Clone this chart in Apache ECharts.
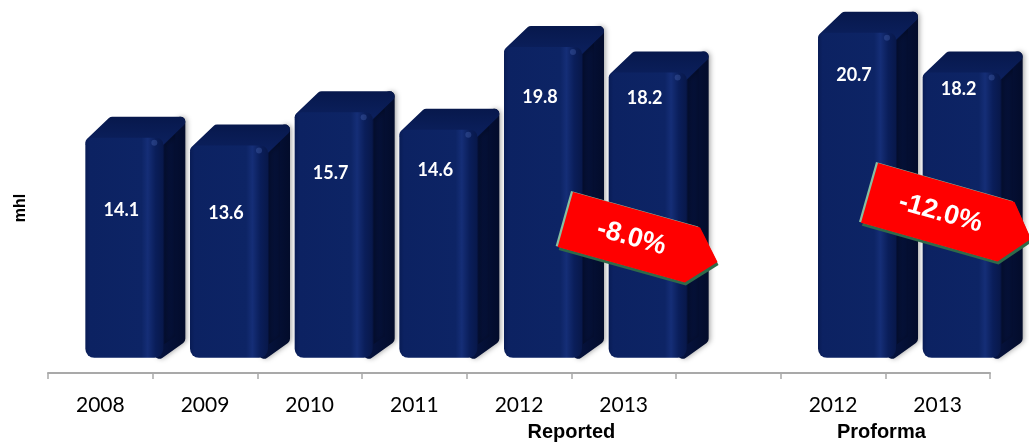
<!DOCTYPE html>
<html>
<head>
<meta charset="utf-8">
<title>Volume (mhl)</title>
<script src="https://cdn.jsdelivr.net/npm/echarts@6/dist/echarts.min.js"></script>
<style>
  html, body { margin: 0; padding: 0; background: #ffffff; }
  #chart { width: 1029px; height: 442px; }
</style>
</head>
<body>
<div id="chart"></div>
<script>
// Annual volumes in mhl: reported series 2008-2013, then proforma 2012-2013
const categories = ['2008', '2009', '2010', '2011', '2012', '2013', '', '2012', '2013'];
const volumes = [14.1, 13.6, 15.7, 14.6, 19.8, 18.2, null, 20.7, 18.2];
const groupLabels = ['Reported', 'Proforma'];
const changeLabels = ['-8.0%', '-12.0%'];
const axisTitle = 'mhl';

// vertical placement of each value label, measured down from the bar top (px)
const labelDrop = [73, 68, 61, 41, 50, 26, 0, 43, 17];

const GRID = { left: 48, right: 39, top: 12, bottom: 69 };
const W = 1029, H = 442;
const slot = (W - GRID.left - GRID.right) / categories.length;

const barData = [];
volumes.forEach((v, i) => { if (v != null) barData.push([i, v]); });

const FRONT = new echarts.graphic.LinearGradient(0, 0, 1, 0, [
  { offset: 0, color: '#091c55' },
  { offset: 0.06, color: '#0c2262' },
  { offset: 0.72, color: '#0d2465' },
  { offset: 0.8, color: '#152e77' },
  { offset: 0.9, color: '#0a1e5a' },
  { offset: 1, color: '#08184a' }
]);
const SIDE = new echarts.graphic.LinearGradient(0, 0, 1, 0, [
  { offset: 0, color: '#061442' },
  { offset: 1, color: '#030c2b' }
]);
const TOP = new echarts.graphic.LinearGradient(0, 0, 0, 1, [
  { offset: 0, color: '#07184c' },
  { offset: 1, color: '#0c2160' }
]);

function renderBar(params, api) {
  const i = api.value(0);
  const v = api.value(1);
  const top = api.coord([i, v]);
  const base = api.coord([i, 0]);
  const w = 78, dx = 22, dy = 21, r = 5;
  const x0 = top[0] - 15, x1 = x0 + w;
  const yT = top[1], yB = base[1] - 4;

  // right side face, rounded via a thick round-joined stroke
  const side = {
    type: 'polygon',
    shape: { points: [
      [x1 - 4, yT + r], [x1 + dx - r, yT - dy + r], [x1 + dx - r, yB - dy + 2], [x1 - 4, yB - r + 1]
    ] },
    style: { fill: SIDE, stroke: SIDE, lineWidth: 2 * r, lineJoin: 'round',
             shadowBlur: 5, shadowColor: 'rgba(0,0,0,0.3)', shadowOffsetX: 2 }
  };
  const topFace = {
    type: 'polygon',
    shape: { points: [
      [x0 + r, yT + r], [x0 + dx + r, yT - dy + r], [x1 + dx - r, yT - dy + r], [x1 - r, yT + r]
    ] },
    style: { fill: TOP, stroke: TOP, lineWidth: 2 * r, lineJoin: 'round' }
  };
  const front = {
    type: 'rect',
    shape: { x: x0, y: yT, width: w, height: yB - yT, r: [7, 7, 9, 9] },
    style: { fill: FRONT }
  };
  const glint = {
    type: 'circle',
    shape: { cx: x1 - 9, cy: yT + 5, r: 3 },
    style: { fill: 'rgba(90,120,200,0.3)' }
  };
  const label = {
    type: 'text',
    style: {
      text: v.toFixed(1), x: x0 + w / 2 - 3, y: yT + labelDrop[i],
      fill: '#ffffff', font: 'bold 18px Lato, "Open Sans", sans-serif',
      align: 'center', verticalAlign: 'middle'
    }
  };
  return { type: 'group', children: [side, topFace, front, glint, label] };
}

// down-pointing change badges
function badge(tl, len, hgt, angleDeg, tipLen, text) {
  const a = angleDeg * Math.PI / 180;
  const ux = Math.cos(a), uy = Math.sin(a);
  const vx = -Math.sin(a), vy = Math.cos(a);
  const P = (s, t) => [tl[0] + ux * s + vx * t, tl[1] + uy * s + vy * t];
  const pts = [P(0, 0), P(len, 0), P(len + tipLen, hgt / 2), P(len, hgt), P(0, hgt)];
  const shift = (ddx, ddy) => pts.map(p => [p[0] + ddx, p[1] + ddy]);
  const c = P(len * 0.52, hgt / 2);
  return [
    { type: 'polygon', z: 20, shape: { points: shift(1, 3) }, style: { fill: '#2f6a4a' } },
    { type: 'polygon', z: 21, shape: { points: shift(-2, -1) }, style: { fill: '#86c0a2' } },
    { type: 'polygon', z: 22, shape: { points: pts }, style: { fill: '#ff0000' } },
    {
      type: 'text', z: 23, x: c[0], y: c[1], rotation: -a,
      style: { text: text, x: 0, y: 0, fill: '#ffffff',
               font: 'bold 27px "Liberation Sans", Arial, sans-serif',
               align: 'center', verticalAlign: 'middle' }
    }
  ];
}

const chart = echarts.init(document.getElementById('chart'), null, { renderer: 'canvas' });

const subFont = 'bold 20px "Liberation Sans", Arial, sans-serif';

chart.setOption({
  animation: false,
  backgroundColor: '#ffffff',
  grid: GRID,
  xAxis: {
    type: 'category',
    data: categories,
    boundaryGap: true,
    axisLine: { show: true, onZero: false, lineStyle: { color: '#a9a9a9', width: 2 } },
    axisTick: { show: true, interval: 0, length: 6, lineStyle: { color: '#a9a9a9', width: 1.5 } },
    axisLabel: { interval: 0, margin: 22, color: '#000000', fontSize: 21,
                 fontFamily: 'Lato, "Open Sans", sans-serif' }
  },
  yAxis: {
    type: 'value',
    min: -0.7,
    max: 22,
    axisLine: { show: false },
    axisTick: { show: false },
    axisLabel: { show: false },
    splitLine: { show: false }
  },
  series: [{
    type: 'custom',
    data: barData,
    encode: { x: 0, y: 1 },
    clip: false,
    renderItem: renderBar
  }],
  graphic: [
    {
      type: 'text', x: 21, y: 208, rotation: Math.PI / 2,
      style: { text: axisTitle, x: 0, y: 0, fill: '#000000', align: 'center', verticalAlign: 'middle',
               font: 'bold 16px "Liberation Sans", Arial, sans-serif' }
    },
    {
      type: 'text', x: GRID.left + 5 * slot, y: 432,
      style: { text: groupLabels[0], x: 0, y: 0, fill: '#000000', align: 'center', verticalAlign: 'middle',
               font: subFont }
    },
    {
      type: 'text', x: GRID.left + 8 * slot - 4, y: 432,
      style: { text: groupLabels[1], x: 0, y: 0, fill: '#000000', align: 'center', verticalAlign: 'middle',
               font: subFont }
    },
    ...badge([573, 192], 132, 57, 15.6, 26, changeLabels[0]),
    ...badge([878, 163], 142, 62, 15.9, 26, changeLabels[1])
  ]
});
</script>
</body>
</html>
